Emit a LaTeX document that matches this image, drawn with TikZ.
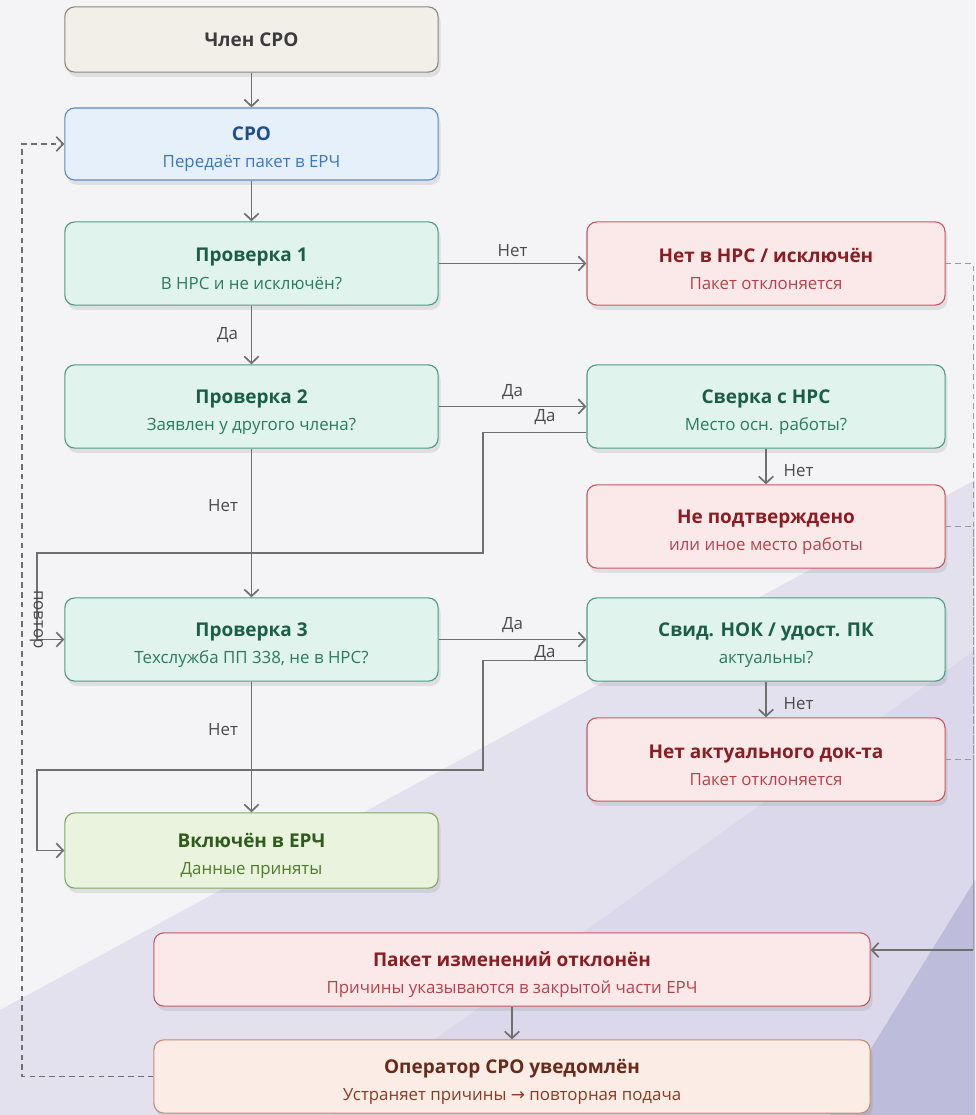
\documentclass[tikz,border=0pt]{standalone}
\usepackage{fontspec}
\setmainfont{Open Sans}
\newfontfamily\symfont{DejaVu Sans}
\usepackage{tikz}
\usetikzlibrary{positioning, arrows.meta, calc, shadows}

\definecolor{bgbase}{HTML}{F4F4F7}
\definecolor{bgband}{HTML}{E3E1EE}
\definecolor{bgdeep}{HTML}{DAD8EA}
\definecolor{bgdark}{HTML}{BEBCDB}
\definecolor{linegray}{HTML}{6F6F6F}
\definecolor{lblgray}{HTML}{4A4A4A}
\definecolor{memfill}{HTML}{F2EFE9}
\definecolor{memline}{HTML}{8C877D}
\definecolor{memtext}{HTML}{3C3C3C}
\definecolor{srofill}{HTML}{E6F0FB}
\definecolor{sroline}{HTML}{5A8AC6}
\definecolor{srotext}{HTML}{1E4E8C}
\definecolor{srosub}{HTML}{3A78C2}
\definecolor{chkfill}{HTML}{E0F3EC}
\definecolor{chkline}{HTML}{4E9C82}
\definecolor{chktext}{HTML}{1B5E47}
\definecolor{chksub}{HTML}{2A7C60}
\definecolor{rejfill}{HTML}{FBE9EA}
\definecolor{rejline}{HTML}{C25A61}
\definecolor{rejtext}{HTML}{8A1C22}
\definecolor{rejsub}{HTML}{B6434B}
\definecolor{okfill}{HTML}{E9F3DE}
\definecolor{okline}{HTML}{7DAA62}
\definecolor{oktext}{HTML}{2F5B1B}
\definecolor{oksub}{HTML}{4C7C2C}
\definecolor{opfill}{HTML}{FBECE6}
\definecolor{opline}{HTML}{C98A74}
\definecolor{optext}{HTML}{6A2A18}
\definecolor{opsub}{HTML}{8C3B22}

\newcommand{\subtxt}[1]{\rule{0pt}{17.5pt}\\[3.5pt]{\mdseries\fontsize{12}{14}\selectfont\color{\subcol}#1}}

\begin{document}
\begin{tikzpicture}[
    x=0.025cm, y=-0.025cm,
    box/.style={rectangle, rounded corners=7pt, line width=0.8pt, align=center,
                font=\bfseries\fontsize{13.5}{16}\selectfont,
                drop shadow={shadow xshift=0.6mm, shadow yshift=-1.2mm, opacity=0.18}},
    left col/.style={minimum width=9.33cm},
    right col/.style={minimum width=8.95cm},
    wide/.style={minimum width=17.9cm, minimum height=1.83cm},
    member/.style={box, fill=memfill, draw=memline, text=memtext, minimum height=1.63cm},
    sro/.style={box, fill=srofill, draw=sroline, text=srotext, minimum height=1.8cm,
                execute at begin node={\def\subcol{srosub}}},
    check/.style={box, fill=chkfill, draw=chkline, text=chktext, minimum height=2.08cm,
                  execute at begin node={\def\subcol{chksub}}},
    reject/.style={box, fill=rejfill, draw=rejline, text=rejtext, minimum height=2.08cm,
                   execute at begin node={\def\subcol{rejsub}}},
    accept/.style={box, fill=okfill, draw=okline, text=oktext, minimum height=1.88cm,
                   execute at begin node={\def\subcol{oksub}}},
    notify/.style={box, fill=opfill, draw=opline, text=optext,
                   execute at begin node={\def\subcol{opsub}}},
    arrow/.style={-{Straight Barb[length=1.7mm, width=3.6mm]}, draw=linegray, line width=1.2pt},
    rejdash/.style={draw=linegray!70, line width=0.6pt, dash pattern=on 4pt off 3pt},
    backdash/.style={-{Straight Barb[length=1.7mm, width=3.6mm]}, draw=linegray,
                     line width=1.2pt, dash pattern=on 4pt off 3pt},
    lbl/.style={font=\fontsize{12}{14}\selectfont, text=lblgray, inner sep=2pt}
]

    % Background
    \fill[bgbase] (0,0) rectangle (975,1115);
    \fill[bgband] (975,480) -- (975,1115) -- (0,1115) -- (0,1010) -- cycle;
    \fill[bgdeep] (975,650) -- (975,1115) -- (330,1115) -- cycle;
    \fill[bgdark] (975,880) -- (975,1115) -- (830,1115) -- cycle;
    \useasboundingbox (0,0) rectangle (975,1115);

    % Left column
    \node[member, left col] (member) at (251.5, 39.5) {Член СРО};
    \node[sro, left col] (sro) at (251.5, 144) {СРО\subtxt{Передаёт пакет в ЕРЧ}};
    \node[check, left col] (chk1) at (251.5, 263.5) {Проверка 1\subtxt{В НРС и не исключён?}};
    \node[check, left col] (chk2) at (251.5, 406.5) {Проверка 2\subtxt{Заявлен у другого члена?}};
    \node[check, left col] (chk3) at (251.5, 639.5) {Проверка 3\subtxt{Техслужба ПП 338, не в НРС?}};
    \node[accept, left col] (incl) at (251.5, 850.5) {Включён в ЕРЧ\subtxt{Данные приняты}};

    % Right column
    \node[reject, right col] (nrs) at (766, 263.5) {Нет в НРС / исключён\subtxt{Пакет отклоняется}};
    \node[check, right col] (sverka) at (766, 406.5) {Сверка с НРС\subtxt{Место осн. работы?}};
    \node[reject, right col] (nconf) at (766, 526.5) {Не подтверждено\subtxt{или иное место работы}};
    \node[check, right col] (nok) at (766, 639.5) {Свид. НОК / удост. ПК\subtxt{актуальны?}};
    \node[reject, right col] (nact) at (766, 759.5) {Нет актуального док-та\subtxt{Пакет отклоняется}};

    % Bottom
    \node[reject, wide] (pkt) at (512, 969.5) {Пакет изменений отклонён\subtxt{Причины указываются в закрытой части ЕРЧ}};
    \node[notify, wide] (oper) at (512, 1076.5) {Оператор СРО уведомлён\subtxt{Устраняет причины {\symfont →} повторная подача}};

    % Arrows
    \draw[arrow] (member) -- (sro);
    \draw[arrow] (sro) -- (chk1);
    \draw[arrow] (chk1) -- node[lbl, left=7pt] {Да} (chk2);
    \draw[arrow] (chk1) -- node[lbl, above=2pt] {Нет} (nrs);
    \draw[arrow] (chk2) -- node[lbl, above=2pt] {Да} (sverka);
    \draw[arrow] (chk2) -- node[lbl, left=7pt, pos=0.38] {Нет} (chk3);
    \draw[arrow] (sverka) -- node[lbl, right=10pt, pos=0.6] {Нет} (nconf);
    \draw[arrow] ($(sverka.west)+(0,26)$) -- node[lbl, above=3pt, pos=0.4] {Да} (483,432.5)
        |- (37,553) |- (chk3.west);
    \draw[arrow] (chk3) -- node[lbl, above=2pt] {Да} (nok);
    \draw[arrow] (chk3) -- node[lbl, left=7pt, pos=0.37] {Нет} (incl);
    \draw[arrow] (nok) -- node[lbl, right=10pt, pos=0.6] {Нет} (nact);
    \draw[arrow] ($(nok.west)+(0,21)$) -- node[lbl, above=-3pt, pos=0.4] {Да} (483,660.5)
        |- (37,770) |- (incl.west);

    % Rejections
    \coordinate (merge) at (973, 950);
    \draw[rejdash] (nrs.east) -| (merge);
    \draw[rejdash] (nconf.east) -| (merge);
    \draw[rejdash] (nact.east) -| (merge);
    \draw[arrow] (merge) -- (pkt.east |- merge);
    \draw[arrow] (pkt) -- (oper);

    % Retry
    \draw[backdash] (oper.west) -- (22,1076.5)
        -- node[lbl, rotate=-90, anchor=south, inner ysep=5pt, pos=0.49] {повтор} (22,144) -- (sro.west);

\end{tikzpicture}
\end{document}
